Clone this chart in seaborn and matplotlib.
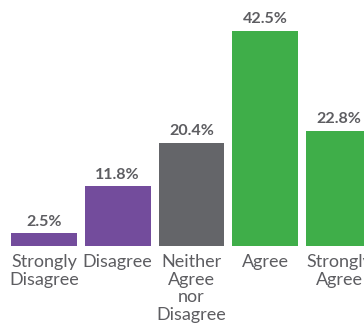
import matplotlib
matplotlib.use("Agg")
import matplotlib.pyplot as plt
import seaborn as sns
import pandas as pd

categories = ["Strongly\nDisagree", "Disagree", "Neither\nAgree\nnor\nDisagree", "Agree", "Strongly\nAgree"]
values = [2.5, 11.8, 20.4, 42.5, 22.8]
value_labels = ["2.5%", "11.8%", "20.4%", "42.5%", "22.8%"]
colors = ["#734c9c", "#734c9c", "#646569", "#3fae49", "#3fae49"]

df = pd.DataFrame({"category": categories, "value": values})

sns.set_style("white")
plt.rcParams["font.family"] = ["Lato", "DejaVu Sans"]

fig = plt.figure(figsize=(3.64, 3.26), dpi=100)
# axes run past the right edge, like the cropped original
ax = fig.add_axes([7 / 364, 80 / 326, 369 / 364, 227.7 / 326])

sns.barplot(data=df, x="category", y="value", hue="category", palette=colors,
            width=0.89, saturation=1, legend=False, linewidth=0, ax=ax)

for i, (v, lab) in enumerate(zip(values, value_labels)):
    ax.text(i, v + 0.9, lab, ha="center", va="bottom", fontsize=11.5,
            fontweight="bold", color="#5d5d61")

ax.set_xlim(-0.5, 4.5)
ax.set_ylim(0, 45)
ax.set_xlabel("")
ax.set_ylabel("")
ax.set_yticks([])
ax.tick_params(axis="x", length=0, pad=6, labelsize=13, labelcolor="#5d5d61")
for lbl in ax.get_xticklabels():
    lbl.set_linespacing(1.12)
sns.despine(ax=ax, left=True, bottom=True)

fig.savefig("out.png", dpi=100)
